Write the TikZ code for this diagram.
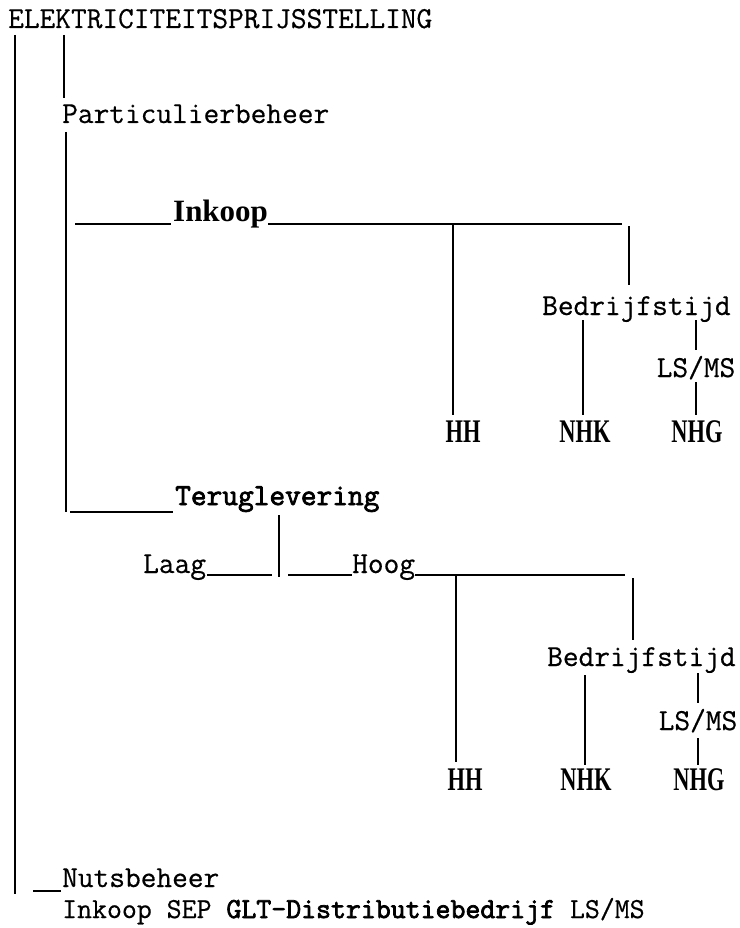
\documentclass[tikz,border=0pt]{standalone}
\usepackage{fontspec}
\usepackage{graphicx}
\newfontfamily\twfont[FakeBold=0.5]{Latin Modern Mono}
\newfontfamily\twbold[FakeBold=2.5]{Latin Modern Mono}
\newfontfamily\srfont{Liberation Serif}
\begin{document}
\begin{tikzpicture}[x=1pt,y=-1pt,
  mono/.style={font=\twfont\fontsize{30.5}{34}\selectfont, inner sep=0pt, anchor=base west},
  monob/.style={font=\twbold\fontsize{30.5}{34}\selectfont, inner sep=0pt, anchor=base west},
  serb/.style={font=\srfont\bfseries\fontsize{31}{34}\selectfont, inner sep=0pt, anchor=base west},
  leaf/.style={font=\srfont\bfseries\fontsize{33}{36}\selectfont, inner sep=0pt, anchor=base},
  ln/.style={line width=1.8pt, line cap=butt}]
\useasboundingbox (0,0) rectangle (739,928);

% texts
\node[mono] (title) at (8,28) {ELEKTRICITEITSPRIJSSTELLING};
\node[mono] (part) at (62,123) {Particulierbeheer};
\node[serb] (inkoop) at (173,221) {Inkoop};
\node[mono] (bed1) at (542,315) {Bedrijfstijd};
\node[mono, anchor=base] (lsms1) at (696,377) {LS/MS};
\node[leaf] (hh1) at (463,442) {\scalebox{0.68}[1]{HH}};
\node[leaf] (nhk1) at (585,442) {\scalebox{0.68}[1]{NHK}};
\node[leaf] (nhg1) at (697,442) {\scalebox{0.68}[1]{NHG}};

\node[monob] (terug) at (175,505) {Teruglevering};
\node[mono] (laag) at (143,573) {Laag};
\node[mono] (hoog) at (352,573) {Hoog};
\node[mono] (bed2) at (547,666) {Bedrijfstijd};
\node[mono, anchor=base] (lsms2) at (698,730) {LS/MS};
\node[leaf] (hh2) at (465,790) {\scalebox{0.68}[1]{HH}};
\node[leaf] (nhk2) at (586,790) {\scalebox{0.68}[1]{NHK}};
\node[leaf] (nhg2) at (699,790) {\scalebox{0.68}[1]{NHG}};

\node[mono] (nuts) at (62,887) {Nutsbeheer};
\node[font=\twfont\fontsize{29}{32}\selectfont, inner sep=0pt, anchor=base west] (bottom) at (62,918) {Inkoop SEP {\twbold GLT-Distributiebedrijf} LS/MS};

% coordinates
\coordinate (a1) at (15,35);
\coordinate (a2) at (15,894);
\coordinate (u1) at (33,891);
\coordinate (u2) at (61,891);
\coordinate (b1) at (64,35);
\coordinate (b2) at (64,98);
\coordinate (b3) at (66,132);
\coordinate (b4) at (66,512);
\coordinate (i1) at (75,224);
\coordinate (i2) at (171,224);
\coordinate (i3) at (268,224);
\coordinate (i4) at (622,224);
\coordinate (h1t) at (453,224);
\coordinate (h1b) at (453,415);
\coordinate (r1t) at (629,226);
\coordinate (r1b) at (629,285);
\coordinate (k1t) at (583,320);
\coordinate (k1b) at (583,415);
\coordinate (g1t) at (696,320);
\coordinate (g1m) at (696,350);
\coordinate (g1n) at (696,382);
\coordinate (g1b) at (696,415);

\coordinate (t1) at (70,512);
\coordinate (t2) at (173,512);
\coordinate (tv1) at (279,515);
\coordinate (tv2) at (279,577);
\coordinate (l1) at (207,575);
\coordinate (l2) at (272,575);
\coordinate (o1) at (288,575);
\coordinate (o2) at (352,575);
\coordinate (o3) at (415,575);
\coordinate (o4) at (625,575);
\coordinate (h2t) at (456,575);
\coordinate (h2b) at (456,762);
\coordinate (r2t) at (633,578);
\coordinate (r2b) at (633,640);
\coordinate (k2t) at (585,675);
\coordinate (k2b) at (585,765);
\coordinate (g2t) at (698,673);
\coordinate (g2m) at (698,703);
\coordinate (g2n) at (698,738);
\coordinate (g2b) at (698,765);

% lines
\draw[ln] (a1) -- (a2);
\draw[ln] (u1) -- (u2);
\draw[ln] (b1) -- (b2);
\draw[ln] (b3) -- (b4);
\draw[ln] (i1) -- (i2);
\draw[ln] (i3) -- (i4);
\draw[ln] (h1t) -- (h1b);
\draw[ln] (r1t) -- (r1b);
\draw[ln] (k1t) -- (k1b);
\draw[ln] (g1t) -- (g1m);
\draw[ln] (g1n) -- (g1b);
\draw[ln] (t1) -- (t2);
\draw[ln] (tv1) -- (tv2);
\draw[ln] (l1) -- (l2);
\draw[ln] (o1) -- (o2);
\draw[ln] (o3) -- (o4);
\draw[ln] (h2t) -- (h2b);
\draw[ln] (r2t) -- (r2b);
\draw[ln] (k2t) -- (k2b);
\draw[ln] (g2t) -- (g2m);
\draw[ln] (g2n) -- (g2b);
\end{tikzpicture}
\end{document}
